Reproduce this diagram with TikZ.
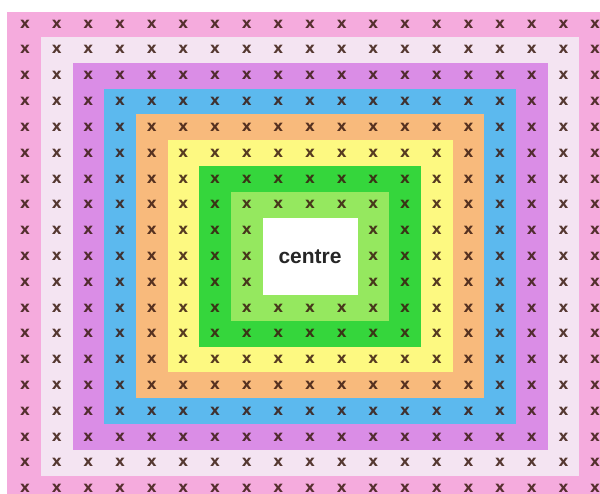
\documentclass[tikz,border=0pt]{standalone}
\usepackage{fontspec}
\setmainfont{Liberation Sans}
\newfontfamily\markfont{DejaVu Sans}
\usetikzlibrary{positioning}
\definecolor{ringPink}{HTML}{F5ABDD}
\definecolor{ringPale}{HTML}{F4E4F2}
\definecolor{ringPurple}{HTML}{DA8DE6}
\definecolor{ringBlue}{HTML}{5CB9EE}
\definecolor{ringOrange}{HTML}{F8BA7C}
\definecolor{ringYellow}{HTML}{FDF981}
\definecolor{ringGreen}{HTML}{35D63C}
\definecolor{ringLime}{HTML}{95E85F}
\definecolor{markBrown}{HTML}{3A1A10}
\tikzset{
  ring/.style={fill=#1, draw=none},
  xmark/.style={font=\markfont\fontsize{7.6}{8}\selectfont\bfseries, text=markBrown,
    text opacity=0.85, inner sep=0pt},
  centrelabel/.style={font=\fontsize{10.5}{12}\selectfont\bfseries, text=black!85,
    inner sep=0pt}
}

\begin{document}
\begin{tikzpicture}[x=15.83pt,y=12.9pt]
  \useasboundingbox[fill=white] (-0.79,0.93) rectangle (18.155,-18.18);
  % outer band a little wider, as in the print
  \fill[ring=ringPink] (-0.57,0.47) rectangle (18.6,-18.6);
  \foreach \k/\c in {1/ringPale,2/ringPurple,3/ringBlue,4/ringOrange,
                     5/ringYellow,6/ringGreen,7/ringLime,8/white}{
    \fill[ring=\c] (\k-0.5,-\k+0.5) rectangle (18.5-\k,-18.5+\k);
  }
  % one x per cell, none in the centre square
  \foreach \i in {0,...,18}{
    \foreach \j in {0,...,18}{
      \pgfmathtruncatemacro\r{min(min(\i,\j),min(18-\i,18-\j))}
      \ifnum\r<8
        \node[xmark] (x-\i-\j) at (\i,-\j) {x};
      \fi
    }
  }
  \node[centrelabel] (centre) at (9,-9) {centre};
\end{tikzpicture}
\end{document}
